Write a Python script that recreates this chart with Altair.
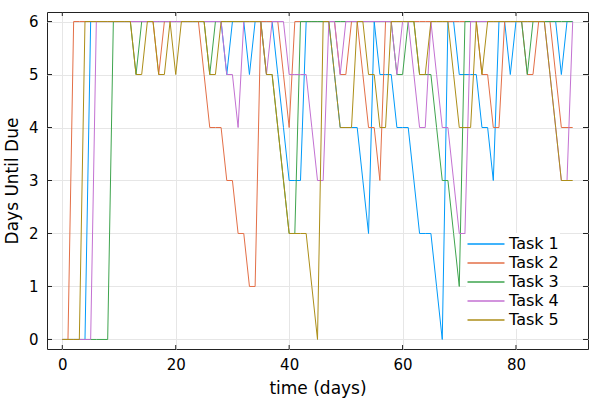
import altair as alt
import pandas as pd

task_names = ["Task 1", "Task 2", "Task 3", "Task 4", "Task 5"]
colors = ["#009AFA", "#E36F47", "#3EA44E", "#C371D2", "#AC8E18"]
days = list(range(0, 91))

task1 = [0, 0, 0, 0, 0, 6, 6, 6, 6, 6,
         6, 6, 6, 6, 6, 6, 6, 6, 6, 6,
         6, 6, 6, 6, 6, 6, 6, 6, 6, 5,
         6, 6, 6, 5, 6, 6, 6, 6, 5, 4,
         3, 3, 3, 6, 6, 6, 6, 6, 5, 4,
         4, 4, 4, 3, 2, 6, 5, 5, 5, 4,
         4, 4, 3, 2, 2, 2, 1, 0, 6, 6,
         5, 5, 5, 5, 4, 4, 3, 6, 6, 5,
         6, 6, 6, 6, 6, 6, 6, 6, 5, 6,
         6]
task2 = [0, 0, 6, 6, 6, 6, 6, 6, 6, 6,
         6, 6, 6, 6, 6, 6, 6, 5, 6, 6,
         6, 6, 6, 6, 6, 5, 4, 4, 4, 3,
         3, 2, 2, 1, 1, 6, 6, 6, 6, 5,
         4, 6, 6, 6, 6, 6, 6, 6, 6, 5,
         5, 6, 6, 5, 4, 4, 3, 6, 6, 6,
         6, 6, 6, 6, 6, 6, 6, 6, 6, 6,
         6, 6, 6, 6, 5, 5, 4, 4, 6, 6,
         6, 6, 5, 5, 6, 6, 6, 5, 4, 4,
         4]
task3 = [0, 0, 0, 0, 0, 0, 0, 0, 0, 6,
         6, 6, 6, 5, 6, 6, 6, 6, 6, 6,
         6, 6, 6, 6, 6, 6, 5, 6, 6, 6,
         6, 6, 6, 6, 6, 6, 5, 5, 4, 3,
         2, 2, 6, 6, 6, 6, 6, 6, 6, 6,
         6, 6, 6, 6, 6, 6, 6, 6, 6, 5,
         5, 6, 6, 5, 5, 5, 4, 3, 3, 2,
         1, 6, 6, 6, 6, 6, 6, 6, 6, 6,
         6, 6, 5, 6, 6, 6, 6, 6, 6, 6,
         6]
task4 = [0, 0, 0, 0, 0, 0, 6, 6, 6, 6,
         6, 6, 6, 6, 6, 6, 6, 6, 6, 6,
         6, 6, 6, 6, 6, 6, 6, 6, 6, 5,
         5, 4, 6, 6, 6, 6, 5, 6, 6, 6,
         5, 5, 5, 5, 4, 3, 3, 6, 6, 5,
         6, 6, 6, 6, 6, 6, 6, 6, 6, 5,
         6, 6, 5, 4, 4, 6, 5, 4, 4, 3,
         2, 2, 6, 6, 6, 6, 6, 6, 6, 6,
         6, 6, 6, 6, 6, 6, 5, 4, 3, 3,
         6]
task5 = [0, 0, 0, 0, 6, 6, 6, 6, 6, 6,
         6, 6, 6, 5, 5, 6, 6, 5, 5, 6,
         5, 6, 6, 6, 6, 6, 5, 5, 6, 6,
         6, 6, 6, 6, 6, 6, 5, 5, 4, 3,
         2, 2, 2, 2, 1, 0, 6, 6, 5, 4,
         4, 4, 6, 6, 5, 5, 4, 4, 6, 6,
         6, 6, 6, 5, 5, 6, 6, 6, 6, 5,
         4, 4, 4, 6, 5, 6, 6, 6, 6, 6,
         6, 6, 6, 6, 6, 6, 5, 4, 3, 3,
         3]

x_ticks = [0, 20, 40, 60, 80]
y_ticks = [0, 1, 2, 3, 4, 5, 6]

series = [task1, task2, task3, task4, task5]
rows = []
for name, vals in zip(task_names, series):
    for d, v in zip(days, vals):
        rows.append({"day": d, "due": v, "task": name})
df = pd.DataFrame(rows)

W, H = 541, 337
FONT = "DejaVu Sans"

xscale = alt.Scale(domain=[-2.7, 92.7], nice=False, zero=False)
yscale = alt.Scale(domain=[-0.18, 6.18], nice=False, zero=False)

lines = alt.Chart(df).mark_line(strokeWidth=1, clip=True).encode(
    x=alt.X("day:Q", scale=xscale,
            axis=alt.Axis(values=x_ticks, title="time (days)", grid=True, format="d",
                          ticks=False, domain=False, labelPadding=8,
                          labelFontSize=15, titleFontSize=17, titlePadding=8,
                          labelFont=FONT, titleFont=FONT, titleFontWeight="normal",
                          labelColor="#000", titleColor="#000",
                          gridColor="#e6e6e6", labelFlush=False)),
    y=alt.Y("due:Q", scale=yscale,
            axis=alt.Axis(values=y_ticks, title="Days Until Due", grid=True, format="d",
                          ticks=False, domain=False, labelPadding=9,
                          labelFontSize=15, titleFontSize=17, titlePadding=7,
                          labelFont=FONT, titleFont=FONT, titleFontWeight="normal",
                          labelColor="#000", titleColor="#000",
                          gridColor="#e6e6e6", labelFlush=False)),
    color=alt.Color("task:N", scale=alt.Scale(domain=task_names, range=colors),
                    legend=alt.Legend(title=None, orient="none", legendX=419, legendY=221,
                                      symbolType="M-2,0H2", symbolSize=342,
                                      symbolStrokeWidth=1.5, symbolOffset=9,
                                      labelFontSize=16,
                                      labelFont=FONT, labelColor="#000",
                                      labelOffset=13, rowPadding=1,
                                      fillColor="white", padding=1)),
)

xt = pd.DataFrame({"day": x_ticks})
yt = pd.DataFrame({"due": y_ticks})
tick_color = "#222"
bottom_ticks = alt.Chart(xt).mark_rule(color=tick_color, strokeWidth=1).encode(
    x=alt.X("day:Q", scale=xscale), y=alt.value(H), y2=alt.value(H - 4))
top_ticks = alt.Chart(xt).mark_rule(color=tick_color, strokeWidth=1).encode(
    x=alt.X("day:Q", scale=xscale), y=alt.value(0), y2=alt.value(4))
left_ticks = alt.Chart(yt).mark_rule(color=tick_color, strokeWidth=1).encode(
    y=alt.Y("due:Q", scale=yscale), x=alt.value(0), x2=alt.value(5))
right_ticks = alt.Chart(yt).mark_rule(color=tick_color, strokeWidth=1).encode(
    y=alt.Y("due:Q", scale=yscale), x=alt.value(W), x2=alt.value(W - 5))

chart = alt.layer(lines, bottom_ticks, top_ticks, left_ticks, right_ticks).properties(
    width=W, height=H,
    autosize=alt.AutoSizeParams(type="none"),
    padding={"left": 47, "top": 12, "right": 12, "bottom": 51},
    background="white",
).configure_view(stroke="#222", strokeWidth=1)

chart.save("out.html", embed_options={"renderer": "svg", "actions": False})
